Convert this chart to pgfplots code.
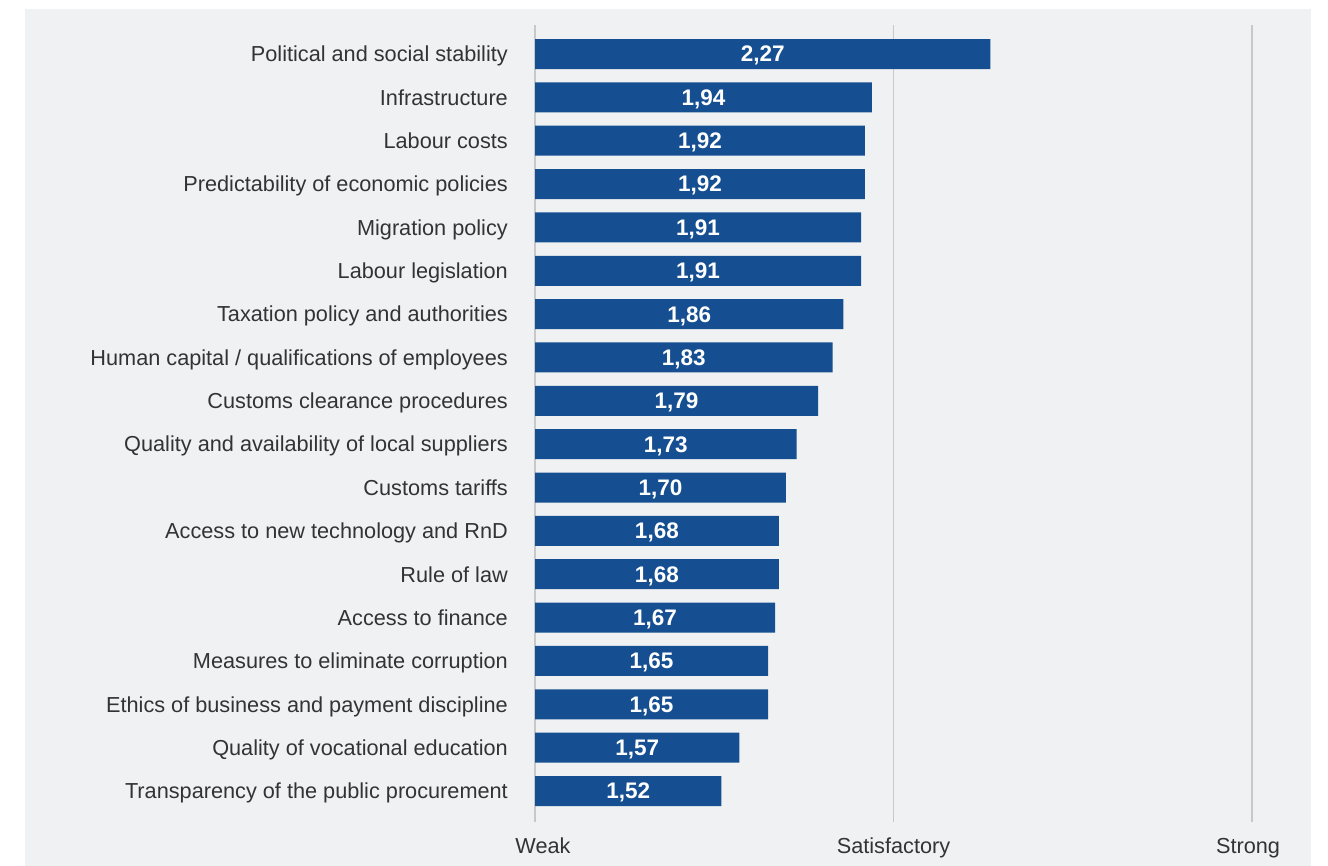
\documentclass[border=0pt]{standalone}
\usepackage{pgfplots}
\pgfplotsset{compat=1.18}
\usepackage{pgfplotstable}
\usepackage{fontspec}
\setmainfont{Liberation Sans}
\definecolor{bg}{HTML}{F0F1F3}
\definecolor{barblue}{HTML}{154F91}
\definecolor{txt}{HTML}{333333}
\definecolor{gridc}{HTML}{C8C8C8}
\pgfplotstableread{
y v lab
17 2.27 2,27
16 1.94 1,94
15 1.92 1,92
14 1.92 1,92
13 1.91 1,91
12 1.91 1,91
11 1.86 1,86
10 1.83 1,83
9 1.79 1,79
8 1.73 1,73
7 1.70 1,70
6 1.68 1,68
5 1.68 1,68
4 1.67 1,67
3 1.65 1,65
2 1.65 1,65
1 1.57 1,57
0 1.52 1,52
}\data
\begin{document}
\begin{tikzpicture}
\fill[white] (0,0) rectangle (1328bp,866bp);
\fill[bg] (25bp,0) rectangle (1311bp,857bp);
\begin{axis}[
  at={(535bp,44bp)}, anchor=south west,
  scale only axis, width=717bp, height=797bp,
  xmin=1, xmax=3, ymin=-0.715, ymax=17.67,
  axis line style={draw=none},
  major tick length=0pt,
  xtick={1,2,3}, xticklabels={{\hspace*{16bp}Weak},Satisfactory,{Strong\hspace*{8bp}}},
  ytick={0,...,17},
  yticklabels={
    {Transparency of the public procurement},
    {Quality of vocational education},
    {Ethics of business and payment discipline},
    {Measures to eliminate corruption},
    {Access to finance},
    {Rule of law},
    {Access to new technology and RnD},
    {Customs tariffs},
    {Quality and availability of local suppliers},
    {Customs clearance procedures},
    {Human capital / qualifications of employees},
    {Taxation policy and authorities},
    {Labour legislation},
    {Migration policy},
    {Predictability of economic policies},
    {Labour costs},
    {Infrastructure},
    {Political and social stability}},
  xmajorgrids, grid style={gridc, line width=1.2bp},
  tick label style={font=\fontsize{21.7bp}{26bp}\selectfont, text=txt, inner sep=0pt},
  yticklabel style={anchor=base east, yshift=-7.8bp},
  yticklabel shift=27bp,
  xticklabel style={anchor=base},
  xticklabel shift=31bp,
]
\addplot[xbar, bar width=30bp, fill=barblue, draw=none] table[x=v, y=y]{\data};
\addplot[draw=none, mark=none, nodes near coords={\pgfplotspointmeta}, point meta=explicit symbolic,
  every node near coord/.style={anchor=base, yshift=-7.9bp, text=white, font=\fontsize{22.5bp}{26bp}\selectfont\bfseries, inner sep=0pt}]
  table[x expr={(\thisrow{v}+1)/2}, y=y, meta=lab]{\data};
\end{axis}
\end{tikzpicture}
\end{document}
